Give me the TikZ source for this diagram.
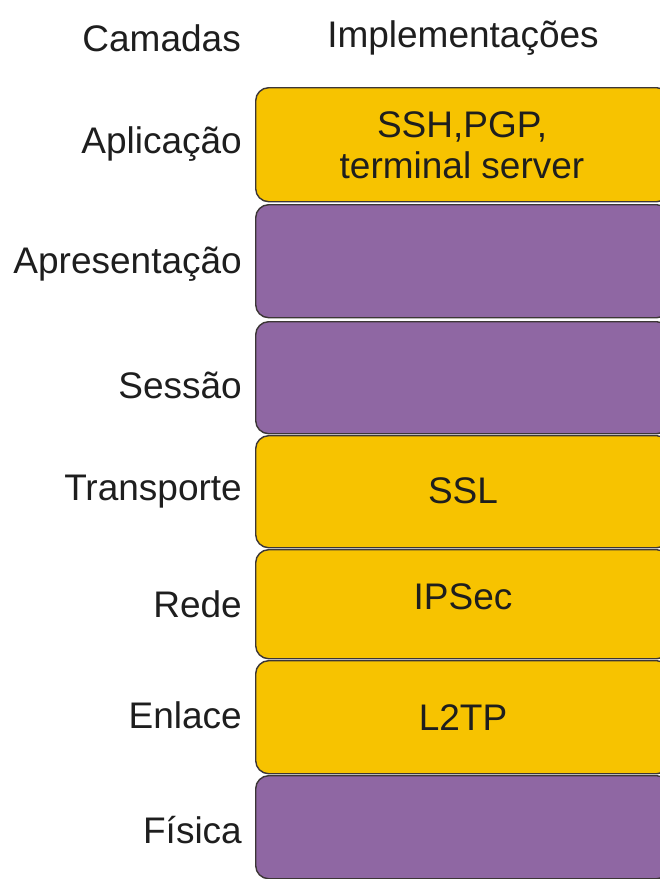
\documentclass[tikz,border=0pt]{standalone}
\usepackage{fontspec}
\setmainfont{Liberation Sans}
\definecolor{layeryellow}{HTML}{F7C300}
\definecolor{layerpurple}{HTML}{8F67A3}
\definecolor{edgegray}{HTML}{3C3636}
\definecolor{inkdark}{HTML}{1E1E1E}
\begin{document}
\begin{tikzpicture}[x=1pt,y=-1pt,
  txt/.style={font=\fontsize{37}{41}\selectfont, text=inkdark, inner sep=0pt},
  lbl/.style={txt, anchor=base east},
  inbox/.style={txt, anchor=base, align=center},
  layerbox/.style={draw=edgegray, line width=1.4pt, rounded corners=13pt,
                   minimum width=414pt, inner sep=0pt, anchor=north west},
  sec/.style={layerbox, fill=layeryellow},
  nosec/.style={layerbox, fill=layerpurple}]
\useasboundingbox (0,0) rectangle (660,879);
\clip (0,0) rectangle (660,879);
\fill[white] (0,0) rectangle (660,879);

% column headings
\node[lbl] (hcam) at (241,51) {Camadas};
\node[inbox] (himp) at (463,47.5) {Implementações};

% layer stack
\node[sec,   minimum height=114pt] (b1) at (255,87)  {};
\node[nosec, minimum height=113pt] (b2) at (255,204) {};
\node[nosec, minimum height=112pt] (b3) at (255,321) {};
\node[sec,   minimum height=112pt] (b4) at (255,435) {};
\node[sec,   minimum height=109pt] (b5) at (255,549) {};
\node[sec,   minimum height=113pt] (b6) at (255,660) {};
\node[nosec, minimum height=103pt] (b7) at (255,775) {};

% implementations
\node[inbox] (t1a) at (462,137) {SSH,PGP,};
\node[inbox] (t1b) at (462,178) {terminal server};
\node[inbox] (t4) at (463,503) {SSL};
\node[inbox] (t5) at (463,609) {IPSec};
\node[inbox] (t6) at (463,730) {L2TP};

% layer names
\node[lbl] (l1) at (242,153) {Aplicação};
\node[lbl] (l2) at (242,273) {Apresentação};
\node[lbl] (l3) at (242,398) {Sessão};
\node[lbl] (l4) at (242,500) {Transporte};
\node[lbl] (l5) at (242,617) {Rede};
\node[lbl] (l6) at (242,728) {Enlace};
\node[lbl] (l7) at (242,843) {Física};
\end{tikzpicture}
\end{document}
